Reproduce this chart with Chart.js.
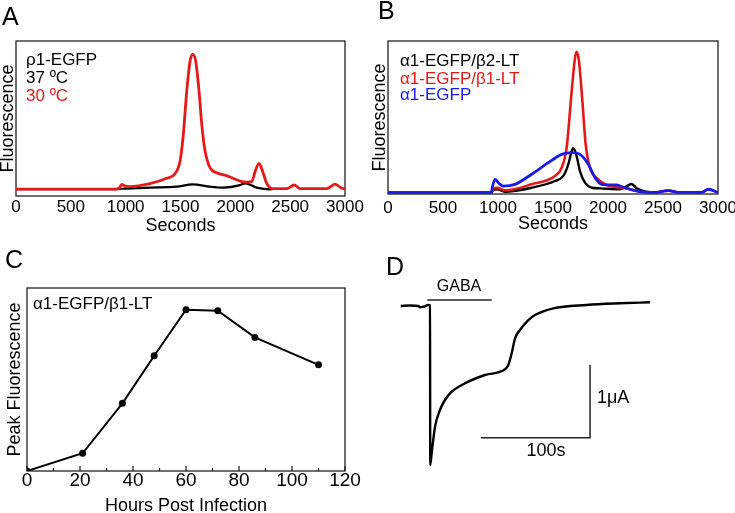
<!DOCTYPE html>
<html lang="en">
<head>
<meta charset="UTF-8">
<title>Fluorescence figure</title>
<script src="https://cdn.jsdelivr.net/npm/chart.js@4"></script>
<style>
  html, body { margin:0; padding:0; background:#fff; width:735px; height:513px; overflow:hidden; }
  canvas { position:absolute; }
  #chartA { left:0; top:0; }
  #chartB { left:365px; top:0; }
  #chartC { left:0; top:250px; }
  #chartD { left:370px; top:250px; }
</style>
</head>
<body>
<canvas id="chartA" width="365" height="250"></canvas>
<canvas id="chartB" width="380" height="250"></canvas>
<canvas id="chartC" width="365" height="263"></canvas>
<canvas id="chartD" width="365" height="263"></canvas>
<script>
// ---- panel A : rho1-EGFP, 37 vs 30 C (seconds, arbitrary units)
const aRedT   = [0, 900, 940, 964, 990, 1040, 1222, 1374, 1450, 1496, 1526, 1557, 1587, 1611, 1639, 1669, 1694, 1724, 1769, 1830, 1906, 1982, 2050, 2100, 2150, 2180, 2216, 2250, 2286, 2347, 2469, 2536, 2590, 2834, 2909, 2970, 3000];
const aRed    = [4.5, 4.5, 5, 7.5, 6.5, 6, 8, 11.4, 14.4, 22.6, 39.8, 67.7, 87, 91.4, 87, 67.7, 46, 29, 18.3, 15, 13.5, 11.3, 9.5, 9, 9.3, 15.7, 21.1, 15.7, 8.2, 4.7, 4.7, 7.1, 4.7, 4.7, 7.7, 5, 4.7];
const aBlackT = [0, 920, 1000, 1222, 1465, 1611, 1769, 1890, 2043, 2089, 2195, 2316, 2340];
const aBlack  = [4.5, 4.5, 4.8, 5.4, 6, 7.5, 6, 5.4, 7, 8.2, 5.4, 4.3, 4.4];

// ---- panel B : alpha1 constructs
const bBlueT  = [0, 940, 948, 973, 1003, 1048, 1154, 1306, 1457, 1579, 1670, 1745, 1821, 1882, 1943, 2018, 2080, 2109, 2200, 2290, 2420, 2548, 2650, 2850, 2912, 3000];
const bBlue   = [0.85, 0.85, 4.1, 9.6, 7.4, 5.2, 6.3, 12.9, 20.5, 25.9, 27, 25.9, 19.4, 10.7, 6.3, 5.9, 6, 5.2, 3.1, 1.5, 1, 2.2, 1, 1, 3.1, 1];
const bRedT   = [0, 940, 955, 988, 1064, 1306, 1518, 1579, 1624, 1670, 1700, 1715, 1736, 1767, 1797, 1836, 1912, 1960, 2018, 2200, 2290, 2420, 2548, 2650, 2850, 2912, 3000];
const bRed    = [0.85, 0.85, 3, 4.1, 2.4, 6.3, 11.8, 17.2, 30.3, 67.3, 89, 93, 87, 60.8, 32.5, 17.2, 9.6, 7, 5.2, 3.1, 1.5, 1, 2.2, 1, 1, 3.1, 1];
const bBlackT = [0, 940, 955, 988, 1064, 1306, 1518, 1594, 1639, 1670, 1685, 1715, 1745, 1791, 1852, 1927, 2109, 2155, 2215, 2261, 2340, 2420];
const bBlack  = [0.85, 0.85, 2.5, 3.1, 1.5, 4.1, 8.5, 11.8, 19.4, 28, 29.9, 24.8, 15, 7.4, 4.1, 3.7, 3.1, 4.4, 6.5, 3.7, 1.5, 1];

// ---- panel C : peak fluorescence vs time
const cHours = [0, 21, 36, 48, 60, 72, 86, 110];
const cPeak  = [0, 9.7, 37, 63, 88.1, 87.6, 73, 58];

// ---- panel D : GABA current trace (s, uA)
const dTime    = [19, 27.5, 35.1, 36.7, 40.4, 44.3, 45.9, 46.1, 47.4, 50.5, 55, 59.6, 65.8, 78, 96.3, 114.7, 117.7, 120.8, 123.9, 128.4, 136.1, 142.2, 159, 189.6, 220.2, 247.7];
const dCurrent = [0, 0.007, 0, -0.018, -0.007, 0.014, 0.007, -2.187, -2.026, -1.66, -1.431, -1.293, -1.179, -1.063, -0.949, -0.871, -0.812, -0.651, -0.444, -0.33, -0.193, -0.124, -0.032, 0.014, 0.037, 0.051];
const gabaT = [43.4, 102.5];
const gabaI = [0.083, 0.083];
const barT  = [92.7, 192.7, 192.7];   // 100 s
const barI  = [-1.812, -1.812, -0.812]; // 1 uA

const RED = '#e41a1a', BLUE = '#1a1ae6', BLACK = '#000';
const FONT = "'Liberation Sans', Arial, sans-serif";
Chart.defaults.font.family = FONT;
Chart.defaults.color = '#000';

const pts = (xs, ys) => xs.map((x, i) => ({x: x, y: ys[i]}));

// frame, inward ticks, panel letter and text labels
const panelDecor = {
  id: 'panelDecor',
  beforeDatasetsDraw(chart, args, o) {
    const ctx = chart.ctx, a = chart.chartArea;
    ctx.save();
    ctx.strokeStyle = '#222';
    ctx.lineWidth = 1.3;
    if (o.frame) ctx.strokeRect(a.left, a.top, a.right - a.left, a.bottom - a.top);
    if (o.minorStep) {
      const sx = chart.scales.x;
      for (let v = sx.min; v <= sx.max; v += o.minorStep) {
        const px = sx.getPixelForValue(v);
        const len = (v % (o.minorStep * 2) === 0) ? 5 : 3;
        ctx.beginPath();
        ctx.moveTo(px, a.bottom);
        ctx.lineTo(px, a.bottom - len);
        ctx.stroke();
      }
    }
    ctx.restore();
  },
  afterDraw(chart, args, o) {
    const ctx = chart.ctx, a = chart.chartArea;
    ctx.save();
    if (o.letter) {
      ctx.font = '25px ' + FONT;
      ctx.fillStyle = '#000';
      ctx.textBaseline = 'alphabetic';
      ctx.fillText(o.letter, o.letterX, o.letterY);
    }
    ctx.textBaseline = 'middle';
    (o.labels || []).forEach(l => {
      ctx.font = (l.size || 17) + 'px ' + FONT;
      ctx.fillStyle = l.color || '#000';
      ctx.textAlign = l.align || 'left';
      if (l.data) {
        ctx.fillText(l.text, chart.scales.x.getPixelForValue(l.x), chart.scales.y.getPixelForValue(l.y));
      } else {
        ctx.fillText(l.text, a.left + l.x, a.top + l.y);
      }
    });
    ctx.restore();
  }
};

function traceSet(xs, ys, color, w) {
  return {data: pts(xs, ys), borderColor: color, borderWidth: w, pointRadius: 0,
          cubicInterpolationMode: 'monotone', fill: false};
}

function axes(o) {
  return {
    x: {type: 'linear', min: o.xmin, max: o.xmax,
        grid: {display: false, drawTicks: false}, border: {display: false},
        ticks: {stepSize: o.step, autoSkip: false, maxRotation: 0, padding: o.tickPad,
                callback: v => String(v),
                font: {size: o.tickSize, lineHeight: o.tickLH || 1.2}},
        title: {display: true, text: o.xTitle, font: {size: 18, lineHeight: 1.2},
                padding: {top: 0, bottom: o.xTitlePad}},
        afterFit: s => { s.height = o.xHeight; }},
    y: {min: 0, max: 100,
        grid: {display: false, drawTicks: false}, border: {display: false},
        ticks: {display: false},
        title: {display: true, text: o.yTitle, font: {size: 18, lineHeight: 1},
                padding: {top: o.yTitlePad, bottom: 0}},
        afterFit: s => { s.width = o.yWidth; }}
  };
}

const common = {responsive: false, animation: false, events: []};

new Chart(document.getElementById('chartA'), {
  type: 'line',
  data: {datasets: [
    traceSet(aRedT, aRed, RED, 2.8),
    traceSet(aBlackT, aBlack, BLACK, 2.2)
  ]},
  options: Object.assign({}, common, {
    layout: {padding: {top: 41, right: 20, left: 0, bottom: 0}},
    scales: axes({xmin: 0, xmax: 3000, step: 500, tickPad: 1, tickSize: 17, xTitle: 'Seconds',
                  xTitlePad: 13, xHeight: 54, yTitle: 'Fluorescence', yTitlePad: -1, yWidth: 16}),
    plugins: {legend: {display: false}, tooltip: {enabled: false},
      panelDecor: {frame: true, letter: 'A', letterX: 2, letterY: 25, labels: [
        {text: 'ρ1-EGFP', x: 10, y: 19},
        {text: '37 ºC', x: 10, y: 37},
        {text: '30 ºC', x: 10, y: 55, color: RED}
      ]}}
  }),
  plugins: [panelDecor]
});

new Chart(document.getElementById('chartB'), {
  type: 'line',
  data: {datasets: [
    traceSet(bBlueT, bBlue, BLUE, 2.8),
    traceSet(bRedT, bRed, RED, 2.6),
    traceSet(bBlackT, bBlack, BLACK, 2.4)
  ]},
  options: Object.assign({}, common, {
    layout: {padding: {top: 41, right: 27, left: 0, bottom: 0}},
    scales: axes({xmin: 0, xmax: 3000, step: 500, tickPad: 4, tickSize: 17, xTitle: 'Seconds',
                  xTitlePad: 15, xHeight: 56, yTitle: 'Fluorescence', yTitlePad: 6, yWidth: 23}),
    plugins: {legend: {display: false}, tooltip: {enabled: false},
      panelDecor: {frame: true, letter: 'B', letterX: 13, letterY: 19, labels: [
        {text: 'α1-EGFP/β2-LT', x: 12, y: 20},
        {text: 'α1-EGFP/β1-LT', x: 12, y: 38, color: RED},
        {text: 'α1-EGFP', x: 12, y: 54.5, color: BLUE}
      ]}}
  }),
  plugins: [panelDecor]
});

new Chart(document.getElementById('chartC'), {
  type: 'line',
  data: {datasets: [{
    data: pts(cHours, cPeak), borderColor: BLACK, borderWidth: 2, tension: 0,
    pointRadius: 3.5, pointBackgroundColor: BLACK, pointBorderWidth: 0
  }]},
  options: Object.assign({}, common, {
    layout: {padding: {top: 38, right: 20, left: 0, bottom: 0}},
    scales: axes({xmin: 0, xmax: 120, step: 20, tickPad: 0, tickSize: 19, tickLH: 1, xTitle: 'Hours Post Infection',
                  xTitlePad: -4, xHeight: 42, yTitle: 'Peak Fluorescence', yTitlePad: 6, yWidth: 27}),
    plugins: {legend: {display: false}, tooltip: {enabled: false},
      panelDecor: {frame: true, minorStep: 10, letter: 'C', letterX: 5, letterY: 18, labels: [
        {text: 'α1-EGFP/β1-LT', x: 6, y: 16.5}
      ]}}
  }),
  plugins: [panelDecor]
});

new Chart(document.getElementById('chartD'), {
  type: 'line',
  data: {datasets: [
    {data: pts(dTime, dCurrent), borderColor: BLACK, borderWidth: 2.4, pointRadius: 0,
     cubicInterpolationMode: 'monotone'},
    {data: pts(gabaT, gabaI), borderColor: '#222', borderWidth: 1.5, pointRadius: 0, tension: 0},
    {data: pts(barT, barI), borderColor: '#222', borderWidth: 1.5, pointRadius: 0, tension: 0}
  ]},
  options: Object.assign({}, common, {
    layout: {padding: 0},
    scales: {
      x: {type: 'linear', display: false, min: -9.17, max: 325.7},
      y: {display: false, min: -2.847, max: 0.77}
    },
    plugins: {legend: {display: false}, tooltip: {enabled: false},
      panelDecor: {letter: 'D', letterX: 16, letterY: 25, labels: [
        {text: 'GABA', data: true, x: 72.5, y: 0.261, align: 'center', size: 16},
        {text: '1μA', data: true, x: 199, y: -1.27, align: 'left', size: 18},
        {text: '100s', data: true, x: 152.3, y: -2.0, align: 'center', size: 18}
      ]}}
  }),
  plugins: [panelDecor]
});
</script>
</body>
</html>
